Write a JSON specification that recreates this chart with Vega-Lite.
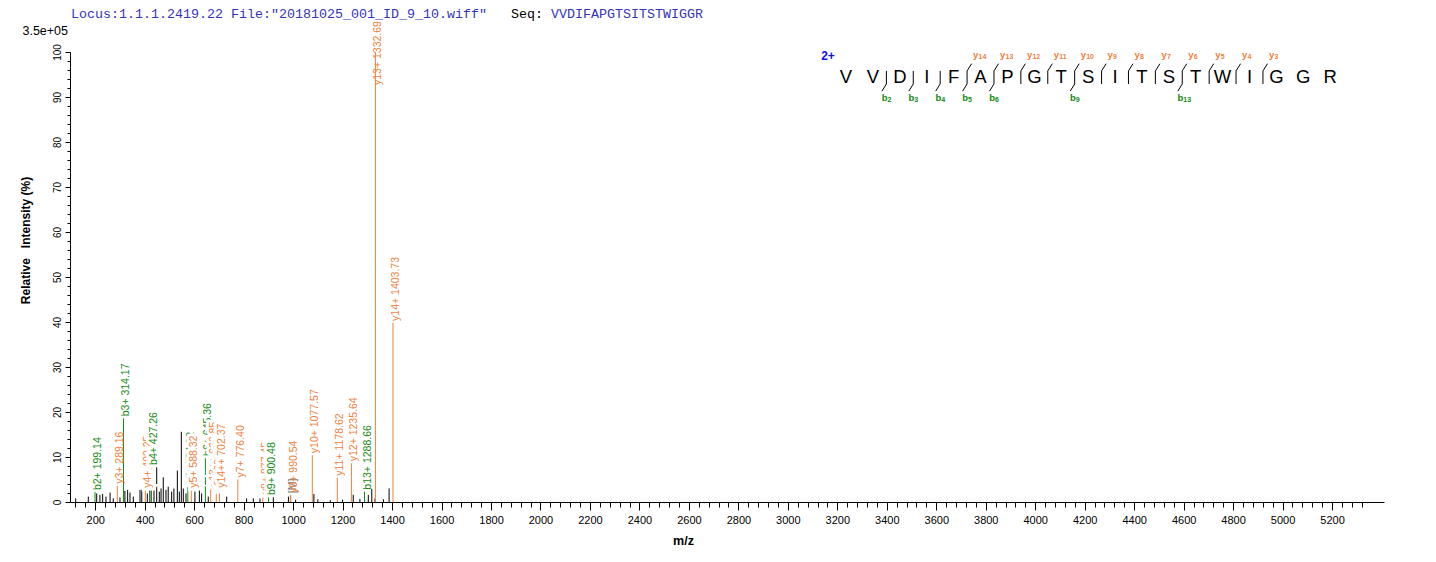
{
  "$schema": "https://vega.github.io/schema/vega-lite/v6.json",
  "width": 1314,
  "height": 450,
  "autosize": {"type": "none"},
  "padding": {"left": 70, "top": 52, "right": 52, "bottom": 60},
  "background": "white",
  "config": {
    "view": {"stroke": null},
    "font": "Liberation Sans",
    "axis": {"grid": false, "domainColor": "black", "tickColor": "black", "labelColor": "black", "titleColor": "black", "labelFont": "Liberation Sans", "titleFont": "Liberation Sans"}
  },
  "datasets": {
    "peaks": [
      {"mz": 121, "rel": 0.8, "ion": "o", "lab": ""},
      {"mz": 172, "rel": 1.2, "ion": "o", "lab": ""},
      {"mz": 206, "rel": 1.9, "ion": "o", "lab": ""},
      {"mz": 219, "rel": 1.6, "ion": "o", "lab": ""},
      {"mz": 230, "rel": 1.8, "ion": "o", "lab": ""},
      {"mz": 243.5, "rel": 1.2, "ion": "o", "lab": ""},
      {"mz": 260, "rel": 2.1, "ion": "o", "lab": ""},
      {"mz": 273, "rel": 0.8, "ion": "o", "lab": ""},
      {"mz": 300, "rel": 1.0, "ion": "o", "lab": ""},
      {"mz": 320, "rel": 2.5, "ion": "o", "lab": ""},
      {"mz": 331, "rel": 2.7, "ion": "o", "lab": ""},
      {"mz": 340.5, "rel": 2.1, "ion": "o", "lab": ""},
      {"mz": 354, "rel": 1.2, "ion": "o", "lab": ""},
      {"mz": 381, "rel": 2.7, "ion": "o", "lab": ""},
      {"mz": 388, "rel": 2.7, "ion": "o", "lab": ""},
      {"mz": 410.5, "rel": 1.9, "ion": "o", "lab": ""},
      {"mz": 421, "rel": 3.0, "ion": "o", "lab": ""},
      {"mz": 437.5, "rel": 2.7, "ion": "o", "lab": ""},
      {"mz": 448.5, "rel": 8.1, "ion": "o", "lab": ""},
      {"mz": 459, "rel": 2.3, "ion": "o", "lab": ""},
      {"mz": 466, "rel": 3.0, "ion": "o", "lab": ""},
      {"mz": 475, "rel": 5.5, "ion": "o", "lab": ""},
      {"mz": 486, "rel": 2.7, "ion": "o", "lab": ""},
      {"mz": 495, "rel": 3.4, "ion": "o", "lab": ""},
      {"mz": 509, "rel": 2.3, "ion": "o", "lab": ""},
      {"mz": 518, "rel": 3.0, "ion": "o", "lab": ""},
      {"mz": 532, "rel": 7.0, "ion": "o", "lab": ""},
      {"mz": 540, "rel": 2.3, "ion": "o", "lab": ""},
      {"mz": 548, "rel": 15.6, "ion": "o", "lab": ""},
      {"mz": 556, "rel": 3.0, "ion": "o", "lab": ""},
      {"mz": 567, "rel": 1.9, "ion": "o", "lab": ""},
      {"mz": 603, "rel": 2.3, "ion": "o", "lab": ""},
      {"mz": 621, "rel": 3.6, "ion": "o", "lab": ""},
      {"mz": 630, "rel": 1.9, "ion": "o", "lab": ""},
      {"mz": 657, "rel": 1.2, "ion": "o", "lab": ""},
      {"mz": 731.5, "rel": 1.2, "ion": "o", "lab": ""},
      {"mz": 812, "rel": 0.8, "ion": "o", "lab": ""},
      {"mz": 839, "rel": 0.8, "ion": "o", "lab": ""},
      {"mz": 866, "rel": 0.8, "ion": "o", "lab": ""},
      {"mz": 920, "rel": 1.2, "ion": "o", "lab": ""},
      {"mz": 981, "rel": 1.2, "ion": "o", "lab": ""},
      {"mz": 1010, "rel": 0.5, "ion": "o", "lab": ""},
      {"mz": 1084, "rel": 1.8, "ion": "o", "lab": ""},
      {"mz": 1100, "rel": 0.6, "ion": "o", "lab": ""},
      {"mz": 1150, "rel": 0.4, "ion": "o", "lab": ""},
      {"mz": 1200, "rel": 0.5, "ion": "o", "lab": ""},
      {"mz": 1243, "rel": 1.6, "ion": "o", "lab": ""},
      {"mz": 1270, "rel": 0.7, "ion": "o", "lab": ""},
      {"mz": 1304, "rel": 1.6, "ion": "o", "lab": ""},
      {"mz": 1318, "rel": 2.9, "ion": "o", "lab": ""},
      {"mz": 1331, "rel": 0.8, "ion": "o", "lab": ""},
      {"mz": 1365, "rel": 0.6, "ion": "o", "lab": ""},
      {"mz": 1388, "rel": 3.0, "ion": "o", "lab": ""},
      {"mz": 199.14, "rel": 2.2, "ion": "b", "lab": "b2+ 199.14"},
      {"mz": 289.16, "rel": 3.6, "ion": "y", "lab": "y3+ 289.16"},
      {"mz": 314.17, "rel": 18.6, "ion": "b", "lab": "b3+ 314.17"},
      {"mz": 402.25, "rel": 2.7, "ion": "y", "lab": "y4+ 402.25"},
      {"mz": 427.26, "rel": 7.8, "ion": "b", "lab": "b4+ 427.26"},
      {"mz": 574.32, "rel": 3.4, "ion": "b", "lab": "b5+ 574.32"},
      {"mz": 588.32, "rel": 2.7, "ion": "y", "lab": "y5+ 588.32"},
      {"mz": 645.36, "rel": 9.8, "ion": "b", "lab": "b6+ 645.36"},
      {"mz": 666.85, "rel": 3.1, "ion": "y", "lab": "y13++ 666.85"},
      {"mz": 689.38, "rel": 2.0, "ion": "y", "lab": "y6+ 689.38"},
      {"mz": 702.37, "rel": 2.7, "ion": "y", "lab": "y14++ 702.37"},
      {"mz": 776.40, "rel": 5.0, "ion": "y", "lab": "y7+ 776.40"},
      {"mz": 877.45, "rel": 1.3, "ion": "y", "lab": "y8+ 877.45"},
      {"mz": 900.48, "rel": 1.1, "ion": "b", "lab": "b9+ 900.48"},
      {"mz": 989.0, "rel": 1.5, "ion": "m", "lab": "[M]"},
      {"mz": 990.54, "rel": 1.6, "ion": "y", "lab": "y9+ 990.54"},
      {"mz": 1077.57, "rel": 10.4, "ion": "y", "lab": "y10+ 1077.57"},
      {"mz": 1178.62, "rel": 5.4, "ion": "y", "lab": "y11+ 1178.62"},
      {"mz": 1235.64, "rel": 8.6, "ion": "y", "lab": "y12+ 1235.64"},
      {"mz": 1288.66, "rel": 2.3, "ion": "b", "lab": "b13+ 1288.66"},
      {"mz": 1332.69, "rel": 100, "ion": "y", "lab": "y13+ 1332.69"},
      {"mz": 1403.73, "rel": 39.8, "ion": "y", "lab": "y14+ 1403.73"}
    ],
    "seq": [
      {"i": 1, "aa": "V"}, {"i": 2, "aa": "V"}, {"i": 3, "aa": "D"}, {"i": 4, "aa": "I"},
      {"i": 5, "aa": "F"}, {"i": 6, "aa": "A"}, {"i": 7, "aa": "P"}, {"i": 8, "aa": "G"},
      {"i": 9, "aa": "T"}, {"i": 10, "aa": "S"}, {"i": 11, "aa": "I"}, {"i": 12, "aa": "T"},
      {"i": 13, "aa": "S"}, {"i": 14, "aa": "T"}, {"i": 15, "aa": "W"}, {"i": 16, "aa": "I"},
      {"i": 17, "aa": "G"}, {"i": 18, "aa": "G"}, {"i": 19, "aa": "R"}
    ],
    "splits": [
      {"after": 2, "b": "2", "y": ""},
      {"after": 3, "b": "3", "y": ""},
      {"after": 4, "b": "4", "y": ""},
      {"after": 5, "b": "5", "y": "14"},
      {"after": 6, "b": "6", "y": "13"},
      {"after": 7, "b": "", "y": "12"},
      {"after": 8, "b": "", "y": "11"},
      {"after": 9, "b": "9", "y": "10"},
      {"after": 10, "b": "", "y": "9"},
      {"after": 11, "b": "", "y": "8"},
      {"after": 12, "b": "", "y": "7"},
      {"after": 13, "b": "13", "y": "6"},
      {"after": 14, "b": "", "y": "5"},
      {"after": 15, "b": "", "y": "4"},
      {"after": 16, "b": "", "y": "3"}
    ]
  },
  "layer": [
    {
      "data": {"name": "peaks"},
      "mark": {"type": "rule", "strokeWidth": 1},
      "encoding": {
        "x": {"field": "mz", "type": "quantitative",
          "scale": {"domain": [98, 5410], "nice": false, "zero": false},
          "axis": {
            "orient": "bottom",
            "title": "m/z", "titleFontWeight": "bold", "titleFontSize": 12.5,
            "titleX": 613, "titleY": 38, "titleBaseline": "middle", "titleAlign": "center",
            "values": [200,400,600,800,1000,1200,1400,1600,1800,2000,2200,2400,2600,2800,3000,3200,3400,3600,3800,4000,4200,4400,4600,4800,5000,5200],
            "format": "d", "labelOverlap": false, "labelFlush": false,
            "labelFontSize": 11, "labelPadding": 4, "tickSize": 8, "tickWidth": 1, "domainWidth": 1
          }
        },
        "y": {"field": "rel", "type": "quantitative",
          "scale": {"domain": [0, 100], "nice": false, "zero": true},
          "axis": {
            "orient": "left",
            "title": "Relative\u00a0\u00a0\u00a0Intensity (%)", "titleFontWeight": "bold", "titleFontSize": 12,
            "titleX": -45, "titleY": 188, "titleAngle": 270, "titleAlign": "center", "titleBaseline": "middle",
            "values": [0,10,20,30,40,50,60,70,80,90,100],
            "format": "d", "labelOverlap": false, "labelFlush": false,
            "labelAngle": 270, "labelAlign": "center", "labelBaseline": "bottom",
            "labelFontSize": 10, "labelPadding": 3, "tickSize": 5, "tickWidth": 1, "domainWidth": 1
          }
        },
        "y2": {"datum": 0},
        "color": {"field": "ion", "type": "nominal",
          "scale": {"domain": ["b", "y", "o", "m"], "range": ["#118a11", "#f0803c", "#000000", "#808080"]},
          "legend": null}
      }
    },
    {
      "data": {"values": [{"mz": 98, "rel": 0}]},
      "mark": {"type": "point", "opacity": 0},
      "encoding": {
        "x": {"field": "mz", "type": "quantitative",
          "scale": {"domain": [98, 5410], "nice": false, "zero": false},
          "axis": {
            "orient": "bottom", "title": null, "labels": false, "domain": false,
            "values": [120,160,240,280,320,360,440,480,520,560,640,680,720,760,840,880,920,960,1040,1080,1120,1160,1240,1280,1320,1360,1440,1480,1520,1560,1640,1680,1720,1760,1840,1880,1920,1960,2040,2080,2120,2160,2240,2280,2320,2360,2440,2480,2520,2560,2640,2680,2720,2760,2840,2880,2920,2960,3040,3080,3120,3160,3240,3280,3320,3360,3440,3480,3520,3560,3640,3680,3720,3760,3840,3880,3920,3960,4040,4080,4120,4160,4240,4280,4320,4360,4440,4480,4520,4560,4640,4680,4720,4760,4840,4880,4920,4960,5040,5080,5120,5160,5240,5280,5320],
            "tickSize": 5, "tickWidth": 1
          }
        },
        "y": {"field": "rel", "type": "quantitative",
          "scale": {"domain": [0, 100], "nice": false, "zero": true},
          "axis": {
            "orient": "left", "title": null, "labels": false, "domain": false,
            "values": [2,4,6,8,12,14,16,18,22,24,26,28,32,34,36,38,42,44,46,48,52,54,56,58,62,64,66,68,72,74,76,78,82,84,86,88,92,94,96,98],
            "tickSize": 3, "tickWidth": 1
          }
        }
      }
    },
    {
      "data": {"name": "peaks"},
      "transform": [{"filter": "datum.lab != '' && datum.rel <= 95 && indexof(['y4+ 402.25','b4+ 427.26','b5+ 574.32','y5+ 588.32','b6+ 645.36','y13++ 666.85','y6+ 689.38','y14++ 702.37','y8+ 877.45','b9+ 900.48'], datum.lab) < 0"}],
      "mark": {"type": "text", "angle": 270, "align": "left", "baseline": "middle", "dx": 2, "dy": 3, "fontSize": 10.5},
      "encoding": {
        "x": {"field": "mz", "type": "quantitative", "scale": {"domain": [98, 5410], "nice": false, "zero": false}, "axis": null},
        "y": {"field": "rel", "type": "quantitative", "scale": {"domain": [0, 100], "nice": false}, "axis": null},
        "text": {"field": "lab"},
        "color": {"field": "ion", "type": "nominal",
          "scale": {"domain": ["b", "y", "o", "m"], "range": ["#118a11", "#f0803c", "#000000", "#808080"]},
          "legend": null}
      }
    },
    {
      "data": {"name": "peaks"},
      "transform": [{"filter": "datum.lab != '' && datum.rel > 95"}],
      "mark": {"type": "text", "angle": 270, "align": "left", "baseline": "middle", "dx": -33, "dy": 3, "fontSize": 10.5},
      "encoding": {
        "x": {"field": "mz", "type": "quantitative", "scale": {"domain": [98, 5410], "nice": false, "zero": false}, "axis": null},
        "y": {"field": "rel", "type": "quantitative", "scale": {"domain": [0, 100], "nice": false}, "axis": null},
        "text": {"field": "lab"},
        "color": {"field": "ion", "type": "nominal",
          "scale": {"domain": ["b", "y", "o", "m"], "range": ["#118a11", "#f0803c", "#000000", "#808080"]},
          "legend": null}
      }
    },
    {"data": {"name": "peaks"}, "transform": [{"filter": "datum.lab == 'y4+ 402.25'"}],
     "mark": {"type": "text", "angle": 270, "align": "left", "baseline": "middle", "dx": 2, "dy": 3, "fontSize": 10.5, "fill": "white", "stroke": "white", "strokeWidth": 6},
     "encoding": {"x": {"field": "mz", "type": "quantitative", "scale": {"domain": [98, 5410], "nice": false, "zero": false}, "axis": null}, "y": {"field": "rel", "type": "quantitative", "scale": {"domain": [0, 100], "nice": false}, "axis": null}, "text": {"field": "lab"}}},
    {"data": {"name": "peaks"}, "transform": [{"filter": "datum.lab == 'y4+ 402.25'"}],
     "mark": {"type": "text", "angle": 270, "align": "left", "baseline": "middle", "dx": 2, "dy": 3, "fontSize": 10.5, "color": "#f0803c"},
     "encoding": {"x": {"field": "mz", "type": "quantitative", "scale": {"domain": [98, 5410], "nice": false, "zero": false}, "axis": null}, "y": {"field": "rel", "type": "quantitative", "scale": {"domain": [0, 100], "nice": false}, "axis": null}, "text": {"field": "lab"}}},
    {"data": {"name": "peaks"}, "transform": [{"filter": "datum.lab == 'b4+ 427.26'"}],
     "mark": {"type": "text", "angle": 270, "align": "left", "baseline": "middle", "dx": 2, "dy": 3, "fontSize": 10.5, "fill": "white", "stroke": "white", "strokeWidth": 6},
     "encoding": {"x": {"field": "mz", "type": "quantitative", "scale": {"domain": [98, 5410], "nice": false, "zero": false}, "axis": null}, "y": {"field": "rel", "type": "quantitative", "scale": {"domain": [0, 100], "nice": false}, "axis": null}, "text": {"field": "lab"}}},
    {"data": {"name": "peaks"}, "transform": [{"filter": "datum.lab == 'b4+ 427.26'"}],
     "mark": {"type": "text", "angle": 270, "align": "left", "baseline": "middle", "dx": 2, "dy": 3, "fontSize": 10.5, "color": "#118a11"},
     "encoding": {"x": {"field": "mz", "type": "quantitative", "scale": {"domain": [98, 5410], "nice": false, "zero": false}, "axis": null}, "y": {"field": "rel", "type": "quantitative", "scale": {"domain": [0, 100], "nice": false}, "axis": null}, "text": {"field": "lab"}}},
    {"data": {"name": "peaks"}, "transform": [{"filter": "datum.lab == 'b5+ 574.32'"}],
     "mark": {"type": "text", "angle": 270, "align": "left", "baseline": "middle", "dx": 2, "dy": 3, "fontSize": 10.5, "fill": "white", "stroke": "white", "strokeWidth": 6},
     "encoding": {"x": {"field": "mz", "type": "quantitative", "scale": {"domain": [98, 5410], "nice": false, "zero": false}, "axis": null}, "y": {"field": "rel", "type": "quantitative", "scale": {"domain": [0, 100], "nice": false}, "axis": null}, "text": {"field": "lab"}}},
    {"data": {"name": "peaks"}, "transform": [{"filter": "datum.lab == 'b5+ 574.32'"}],
     "mark": {"type": "text", "angle": 270, "align": "left", "baseline": "middle", "dx": 2, "dy": 3, "fontSize": 10.5, "color": "#118a11"},
     "encoding": {"x": {"field": "mz", "type": "quantitative", "scale": {"domain": [98, 5410], "nice": false, "zero": false}, "axis": null}, "y": {"field": "rel", "type": "quantitative", "scale": {"domain": [0, 100], "nice": false}, "axis": null}, "text": {"field": "lab"}}},
    {"data": {"name": "peaks"}, "transform": [{"filter": "datum.lab == 'y5+ 588.32'"}],
     "mark": {"type": "text", "angle": 270, "align": "left", "baseline": "middle", "dx": 2, "dy": 3, "fontSize": 10.5, "fill": "white", "stroke": "white", "strokeWidth": 6},
     "encoding": {"x": {"field": "mz", "type": "quantitative", "scale": {"domain": [98, 5410], "nice": false, "zero": false}, "axis": null}, "y": {"field": "rel", "type": "quantitative", "scale": {"domain": [0, 100], "nice": false}, "axis": null}, "text": {"field": "lab"}}},
    {"data": {"name": "peaks"}, "transform": [{"filter": "datum.lab == 'y5+ 588.32'"}],
     "mark": {"type": "text", "angle": 270, "align": "left", "baseline": "middle", "dx": 2, "dy": 3, "fontSize": 10.5, "color": "#f0803c"},
     "encoding": {"x": {"field": "mz", "type": "quantitative", "scale": {"domain": [98, 5410], "nice": false, "zero": false}, "axis": null}, "y": {"field": "rel", "type": "quantitative", "scale": {"domain": [0, 100], "nice": false}, "axis": null}, "text": {"field": "lab"}}},
    {"data": {"name": "peaks"}, "transform": [{"filter": "datum.lab == 'b6+ 645.36'"}],
     "mark": {"type": "text", "angle": 270, "align": "left", "baseline": "middle", "dx": 2, "dy": 3, "fontSize": 10.5, "fill": "white", "stroke": "white", "strokeWidth": 6},
     "encoding": {"x": {"field": "mz", "type": "quantitative", "scale": {"domain": [98, 5410], "nice": false, "zero": false}, "axis": null}, "y": {"field": "rel", "type": "quantitative", "scale": {"domain": [0, 100], "nice": false}, "axis": null}, "text": {"field": "lab"}}},
    {"data": {"name": "peaks"}, "transform": [{"filter": "datum.lab == 'b6+ 645.36'"}],
     "mark": {"type": "text", "angle": 270, "align": "left", "baseline": "middle", "dx": 2, "dy": 3, "fontSize": 10.5, "color": "#118a11"},
     "encoding": {"x": {"field": "mz", "type": "quantitative", "scale": {"domain": [98, 5410], "nice": false, "zero": false}, "axis": null}, "y": {"field": "rel", "type": "quantitative", "scale": {"domain": [0, 100], "nice": false}, "axis": null}, "text": {"field": "lab"}}},
    {"data": {"name": "peaks"}, "transform": [{"filter": "datum.lab == 'y13++ 666.85'"}],
     "mark": {"type": "text", "angle": 270, "align": "left", "baseline": "middle", "dx": 2, "dy": 3, "fontSize": 10.5, "fill": "white", "stroke": "white", "strokeWidth": 6},
     "encoding": {"x": {"field": "mz", "type": "quantitative", "scale": {"domain": [98, 5410], "nice": false, "zero": false}, "axis": null}, "y": {"field": "rel", "type": "quantitative", "scale": {"domain": [0, 100], "nice": false}, "axis": null}, "text": {"field": "lab"}}},
    {"data": {"name": "peaks"}, "transform": [{"filter": "datum.lab == 'y13++ 666.85'"}],
     "mark": {"type": "text", "angle": 270, "align": "left", "baseline": "middle", "dx": 2, "dy": 3, "fontSize": 10.5, "color": "#f0803c"},
     "encoding": {"x": {"field": "mz", "type": "quantitative", "scale": {"domain": [98, 5410], "nice": false, "zero": false}, "axis": null}, "y": {"field": "rel", "type": "quantitative", "scale": {"domain": [0, 100], "nice": false}, "axis": null}, "text": {"field": "lab"}}},
    {"data": {"name": "peaks"}, "transform": [{"filter": "datum.lab == 'y6+ 689.38'"}],
     "mark": {"type": "text", "angle": 270, "align": "left", "baseline": "middle", "dx": 2, "dy": 3, "fontSize": 10.5, "fill": "white", "stroke": "white", "strokeWidth": 6},
     "encoding": {"x": {"field": "mz", "type": "quantitative", "scale": {"domain": [98, 5410], "nice": false, "zero": false}, "axis": null}, "y": {"field": "rel", "type": "quantitative", "scale": {"domain": [0, 100], "nice": false}, "axis": null}, "text": {"field": "lab"}}},
    {"data": {"name": "peaks"}, "transform": [{"filter": "datum.lab == 'y6+ 689.38'"}],
     "mark": {"type": "text", "angle": 270, "align": "left", "baseline": "middle", "dx": 2, "dy": 3, "fontSize": 10.5, "color": "#f0803c"},
     "encoding": {"x": {"field": "mz", "type": "quantitative", "scale": {"domain": [98, 5410], "nice": false, "zero": false}, "axis": null}, "y": {"field": "rel", "type": "quantitative", "scale": {"domain": [0, 100], "nice": false}, "axis": null}, "text": {"field": "lab"}}},
    {"data": {"name": "peaks"}, "transform": [{"filter": "datum.lab == 'y14++ 702.37'"}],
     "mark": {"type": "text", "angle": 270, "align": "left", "baseline": "middle", "dx": 2, "dy": 3, "fontSize": 10.5, "fill": "white", "stroke": "white", "strokeWidth": 6},
     "encoding": {"x": {"field": "mz", "type": "quantitative", "scale": {"domain": [98, 5410], "nice": false, "zero": false}, "axis": null}, "y": {"field": "rel", "type": "quantitative", "scale": {"domain": [0, 100], "nice": false}, "axis": null}, "text": {"field": "lab"}}},
    {"data": {"name": "peaks"}, "transform": [{"filter": "datum.lab == 'y14++ 702.37'"}],
     "mark": {"type": "text", "angle": 270, "align": "left", "baseline": "middle", "dx": 2, "dy": 3, "fontSize": 10.5, "color": "#f0803c"},
     "encoding": {"x": {"field": "mz", "type": "quantitative", "scale": {"domain": [98, 5410], "nice": false, "zero": false}, "axis": null}, "y": {"field": "rel", "type": "quantitative", "scale": {"domain": [0, 100], "nice": false}, "axis": null}, "text": {"field": "lab"}}},
    {"data": {"name": "peaks"}, "transform": [{"filter": "datum.lab == 'y8+ 877.45'"}],
     "mark": {"type": "text", "angle": 270, "align": "left", "baseline": "middle", "dx": 2, "dy": 3, "fontSize": 10.5, "fill": "white", "stroke": "white", "strokeWidth": 6},
     "encoding": {"x": {"field": "mz", "type": "quantitative", "scale": {"domain": [98, 5410], "nice": false, "zero": false}, "axis": null}, "y": {"field": "rel", "type": "quantitative", "scale": {"domain": [0, 100], "nice": false}, "axis": null}, "text": {"field": "lab"}}},
    {"data": {"name": "peaks"}, "transform": [{"filter": "datum.lab == 'y8+ 877.45'"}],
     "mark": {"type": "text", "angle": 270, "align": "left", "baseline": "middle", "dx": 2, "dy": 3, "fontSize": 10.5, "color": "#f0803c"},
     "encoding": {"x": {"field": "mz", "type": "quantitative", "scale": {"domain": [98, 5410], "nice": false, "zero": false}, "axis": null}, "y": {"field": "rel", "type": "quantitative", "scale": {"domain": [0, 100], "nice": false}, "axis": null}, "text": {"field": "lab"}}},
    {"data": {"name": "peaks"}, "transform": [{"filter": "datum.lab == 'b9+ 900.48'"}],
     "mark": {"type": "text", "angle": 270, "align": "left", "baseline": "middle", "dx": 2, "dy": 3, "fontSize": 10.5, "fill": "white", "stroke": "white", "strokeWidth": 6},
     "encoding": {"x": {"field": "mz", "type": "quantitative", "scale": {"domain": [98, 5410], "nice": false, "zero": false}, "axis": null}, "y": {"field": "rel", "type": "quantitative", "scale": {"domain": [0, 100], "nice": false}, "axis": null}, "text": {"field": "lab"}}},
    {"data": {"name": "peaks"}, "transform": [{"filter": "datum.lab == 'b9+ 900.48'"}],
     "mark": {"type": "text", "angle": 270, "align": "left", "baseline": "middle", "dx": 2, "dy": 3, "fontSize": 10.5, "color": "#118a11"},
     "encoding": {"x": {"field": "mz", "type": "quantitative", "scale": {"domain": [98, 5410], "nice": false, "zero": false}, "axis": null}, "y": {"field": "rel", "type": "quantitative", "scale": {"domain": [0, 100], "nice": false}, "axis": null}, "text": {"field": "lab"}}},
    {
      "data": {"values": [{"t": "Locus:1.1.1.2419.22 File:\"20181025_001_ID_9_10.wiff\""}]},
      "mark": {"type": "text", "align": "left", "baseline": "middle", "dx": 1, "font": "Liberation Mono", "fontSize": 13.33, "color": "#3333c0"},
      "encoding": {
        "x": {"datum": 98, "type": "quantitative", "scale": {"domain": [98, 5410], "nice": false, "zero": false}, "axis": null},
        "y": {"datum": 108.4, "type": "quantitative", "scale": {"domain": [0, 100], "nice": false}, "axis": null},
        "text": {"field": "t"}
      }
    },
    {
      "data": {"values": [{"t": "Seq:"}]},
      "mark": {"type": "text", "align": "left", "baseline": "middle", "dx": 441, "font": "Liberation Mono", "fontSize": 13.33, "color": "#000000"},
      "encoding": {
        "x": {"datum": 98, "type": "quantitative", "scale": {"domain": [98, 5410], "nice": false, "zero": false}, "axis": null},
        "y": {"datum": 108.4, "type": "quantitative", "scale": {"domain": [0, 100], "nice": false}, "axis": null},
        "text": {"field": "t"}
      }
    },
    {
      "data": {"values": [{"t": "VVDIFAPGTSITSTWIGGR"}]},
      "mark": {"type": "text", "align": "left", "baseline": "middle", "dx": 481, "font": "Liberation Mono", "fontSize": 13.33, "color": "#3333c0"},
      "encoding": {
        "x": {"datum": 98, "type": "quantitative", "scale": {"domain": [98, 5410], "nice": false, "zero": false}, "axis": null},
        "y": {"datum": 108.4, "type": "quantitative", "scale": {"domain": [0, 100], "nice": false}, "axis": null},
        "text": {"field": "t"}
      }
    },
    {
      "data": {"values": [{"t": "3.5e+05"}]},
      "mark": {"type": "text", "align": "right", "baseline": "middle", "dx": -2, "fontSize": 12.5, "color": "#000000"},
      "encoding": {
        "x": {"datum": 98, "type": "quantitative", "scale": {"domain": [98, 5410], "nice": false, "zero": false}, "axis": null},
        "y": {"datum": 104.7, "type": "quantitative", "scale": {"domain": [0, 100], "nice": false}, "axis": null},
        "text": {"field": "t"}
      }
    },
    {
      "data": {"name": "seq"},
      "mark": {"type": "text", "align": "center", "baseline": "alphabetic", "fontSize": 18.5, "color": "#000000"},
      "encoding": {
        "x": {"field": "i", "type": "quantitative", "scale": {"domain": [-27.85, 21.0], "nice": false, "zero": false}, "axis": null},
        "y": {"datum": 93.2, "type": "quantitative", "scale": {"domain": [0, 100], "nice": false}, "axis": null},
        "text": {"field": "aa"}
      }
    },
    {
      "data": {"name": "splits"},
      "mark": {"type": "rule", "strokeWidth": 1, "color": "#000000", "xOffset": 13.45},
      "encoding": {
        "x": {"field": "after", "type": "quantitative", "scale": {"domain": [-27.85, 21.0], "nice": false, "zero": false}, "axis": null},
        "y": {"datum": 95.8, "type": "quantitative", "scale": {"domain": [0, 100], "nice": false}, "axis": null},
        "y2": {"datum": 92.9}
      }
    },
    {
      "data": {"name": "splits"},
      "transform": [{"filter": "datum.y != ''"}],
      "mark": {"type": "rule", "strokeWidth": 1, "color": "#000000", "xOffset": 13.45, "x2Offset": 18},
      "encoding": {
        "x": {"field": "after", "type": "quantitative", "scale": {"domain": [-27.85, 21.0], "nice": false, "zero": false}, "axis": null},
        "x2": {"field": "after"},
        "y": {"datum": 95.8, "type": "quantitative", "scale": {"domain": [0, 100], "nice": false}, "axis": null},
        "y2": {"datum": 97.4}
      }
    },
    {
      "data": {"name": "splits"},
      "transform": [{"filter": "datum.b != ''"}],
      "mark": {"type": "rule", "strokeWidth": 1, "color": "#000000", "xOffset": 13.45, "x2Offset": 9},
      "encoding": {
        "x": {"field": "after", "type": "quantitative", "scale": {"domain": [-27.85, 21.0], "nice": false, "zero": false}, "axis": null},
        "x2": {"field": "after"},
        "y": {"datum": 92.9, "type": "quantitative", "scale": {"domain": [0, 100], "nice": false}, "axis": null},
        "y2": {"datum": 91.3}
      }
    },
    {
      "data": {"name": "splits"},
      "transform": [{"filter": "datum.y != ''"}],
      "mark": {"type": "text", "align": "left", "baseline": "alphabetic", "dx": 19.5, "fontSize": 9.5, "fontWeight": "bold", "color": "#f0803c"},
      "encoding": {
        "x": {"field": "after", "type": "quantitative", "scale": {"domain": [-27.85, 21.0], "nice": false, "zero": false}, "axis": null},
        "y": {"datum": 98.7, "type": "quantitative", "scale": {"domain": [0, 100], "nice": false}, "axis": null},
        "text": {"value": "y"}
      }
    },
    {
      "data": {"name": "splits"},
      "transform": [{"filter": "datum.y != ''"}],
      "mark": {"type": "text", "align": "left", "baseline": "alphabetic", "dx": 25, "dy": 1, "fontSize": 7, "fontWeight": "bold", "color": "#f0803c"},
      "encoding": {
        "x": {"field": "after", "type": "quantitative", "scale": {"domain": [-27.85, 21.0], "nice": false, "zero": false}, "axis": null},
        "y": {"datum": 98.7, "type": "quantitative", "scale": {"domain": [0, 100], "nice": false}, "axis": null},
        "text": {"field": "y"}
      }
    },
    {
      "data": {"name": "splits"},
      "transform": [{"filter": "datum.b != ''"}],
      "mark": {"type": "text", "align": "left", "baseline": "alphabetic", "dx": 8.75, "fontSize": 9.5, "fontWeight": "bold", "color": "#118a11"},
      "encoding": {
        "x": {"field": "after", "type": "quantitative", "scale": {"domain": [-27.85, 21.0], "nice": false, "zero": false}, "axis": null},
        "y": {"datum": 89.1, "type": "quantitative", "scale": {"domain": [0, 100], "nice": false}, "axis": null},
        "text": {"value": "b"}
      }
    },
    {
      "data": {"name": "splits"},
      "transform": [{"filter": "datum.b != ''"}],
      "mark": {"type": "text", "align": "left", "baseline": "alphabetic", "dx": 14.5, "dy": 1, "fontSize": 7, "fontWeight": "bold", "color": "#118a11"},
      "encoding": {
        "x": {"field": "after", "type": "quantitative", "scale": {"domain": [-27.85, 21.0], "nice": false, "zero": false}, "axis": null},
        "y": {"datum": 89.1, "type": "quantitative", "scale": {"domain": [0, 100], "nice": false}, "axis": null},
        "text": {"field": "b"}
      }
    },
    {
      "data": {"values": [{"t": "2+"}]},
      "mark": {"type": "text", "align": "center", "baseline": "middle", "fontSize": 12, "fontWeight": "bold", "color": "#1010e0"},
      "encoding": {
        "x": {"datum": 0.33, "type": "quantitative", "scale": {"domain": [-27.85, 21.0], "nice": false, "zero": false}, "axis": null},
        "y": {"datum": 99.1, "type": "quantitative", "scale": {"domain": [0, 100], "nice": false}, "axis": null},
        "text": {"field": "t"}
      }
    }
  ],
  "resolve": {"scale": {"x": "independent"}, "axis": {"x": "independent", "y": "independent"}}
}
